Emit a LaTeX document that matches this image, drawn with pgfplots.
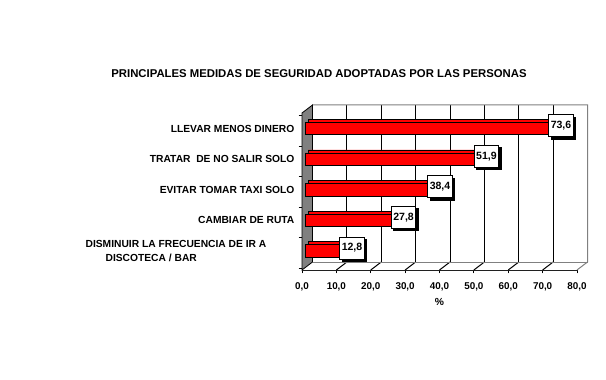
\documentclass[border=0pt]{standalone}
\usepackage{fontspec}
\setmainfont{Liberation Sans}
\usepackage{pgfplots}
\pgfplotsset{compat=1.18}
\usepackage{pgfplotstable}
\usetikzlibrary{shadows}
\definecolor{wallgray}{HTML}{808080}
\definecolor{barred}{HTML}{FF0000}

\pgfplotstableread{
y v
0 12.8
1 27.8
2 38.4
3 51.9
4 73.6
}\datatable

\begin{document}
\begin{tikzpicture}
\path[use as bounding box] (0pt,0pt) rectangle (454.5pt,284.25pt);
\node[font=\bfseries\fontsize{8.5}{10}\selectfont, anchor=center, inner sep=0pt] at (239.25pt,228.75pt) {PRINCIPALES MEDIDAS DE SEGURIDAD ADOPTADAS POR LAS PERSONAS};
\begin{axis}[
  at={(226.5pt,81.75pt)}, anchor=south west,
  scale only axis, width=206.25pt, height=117.75pt,
  xmin=0, xmax=80, ymin=-0.62, ymax=4.51,
  clip=false,
  axis x line*=bottom, axis y line*=left,
  axis line style={black, line width=0.75pt},
  xtick={0,10,...,80},
  ytick={0,1,2,3,4},
  minor ytick={-0.57,0.43,1.43,2.43,3.43,4.43},
  yticklabels={{DISMINUIR LA FRECUENCIA DE IR A\rule{21pt}{0pt}\\\hspace*{15pt}DISCOTECA / BAR},CAMBIAR DE RUTA,EVITAR TOMAR TAXI SOLO,{TRATAR\ \ DE NO SALIR SOLO},LLEVAR MENOS DINERO},
  tick align=outside,
  major tick length=2.5pt, minor tick length=2.5pt,
  every major y tick/.append style={draw=none},
  tick style={black, line width=0.75pt},
  every minor y tick/.append style={black, line width=0.75pt},
  /pgf/number format/fixed, /pgf/number format/fixed zerofill,
  /pgf/number format/precision=1, /pgf/number format/use comma,
  /pgf/number format/assume math mode=true,
  xticklabel style={font=\bfseries\fontsize{7.4}{9}\selectfont, inner sep=0pt, anchor=base, yshift=-12pt},
  yticklabel style={font=\bfseries\fontsize{7.7}{10.5}\selectfont, align=left, anchor=east, inner sep=0pt, xshift=-3pt},
  xlabel={\%},
  xlabel style={font=\bfseries\fontsize{7.7}{9}\selectfont, anchor=base, inner sep=0pt, at={(axis description cs:0.5,0)}, yshift=-26.6pt},
]
\fill[white] (axis cs:0,-0.62) -- ([shift={(7.875pt,6pt)}]axis cs:0,-0.62) -- ([shift={(7.875pt,6pt)}]axis cs:0,4.51) -- ([shift={(7.875pt,6pt)}]axis cs:80,4.51) -- ([shift={(7.875pt,6pt)}]axis cs:80,-0.62) -- (axis cs:80,-0.62) -- cycle;
\pgfplotsinvokeforeach{10,20,30,40,50,60,70}{
  \draw[black, line width=0.75pt] ([shift={(7.875pt,6pt)}]axis cs:#1,-0.62) -- ([shift={(7.875pt,6pt)}]axis cs:#1,4.51);
  \draw[black, line width=0.75pt] (axis cs:#1,-0.62) -- ([shift={(7.875pt,6pt)}]axis cs:#1,-0.62);
}
\draw[wallgray, line width=0.75pt] ([shift={(7.875pt,6pt)}]axis cs:0,4.51) -- ([shift={(7.875pt,6pt)}]axis cs:80,4.51) -- ([shift={(7.875pt,6pt)}]axis cs:80,-0.62) -- (axis cs:80,-0.62);
\draw[wallgray, line width=0.75pt] ([shift={(7.875pt,6pt)}]axis cs:0,-0.62) -- ([shift={(7.875pt,6pt)}]axis cs:80,-0.62);
\filldraw[fill=wallgray, draw=black, line width=0.6pt] (axis cs:0,-0.62) -- (axis cs:0,4.51) -- ([shift={(7.875pt,6pt)}]axis cs:0,4.51) -- ([shift={(7.875pt,6pt)}]axis cs:0,-0.62) -- cycle;
\addplot[xbar, bar width=0.41, fill=barred, draw=black, line width=0.6pt, xshift=4.5pt, yshift=2.25pt] table[x=v,y=y]{\datatable};
\addplot[xbar, bar width=0.41, fill=barred, draw=black, line width=0.6pt, xshift=2.25pt,
  nodes near coords, point meta=x,
  every node near coord/.append style={anchor=center, xshift=2.25pt, yshift=2.25pt,
    font=\bfseries\fontsize{7.9}{9}\selectfont, fill=white, draw=black, line width=0.75pt,
    inner xsep=1.2pt, inner ysep=0pt, minimum height=16.5pt, minimum width=18.5pt,
    drop shadow={shadow xshift=1.8pt, shadow yshift=-1.8pt, fill=black, opacity=1}}
] table[x=v,y=y]{\datatable};
\end{axis}
\end{tikzpicture}
\end{document}
